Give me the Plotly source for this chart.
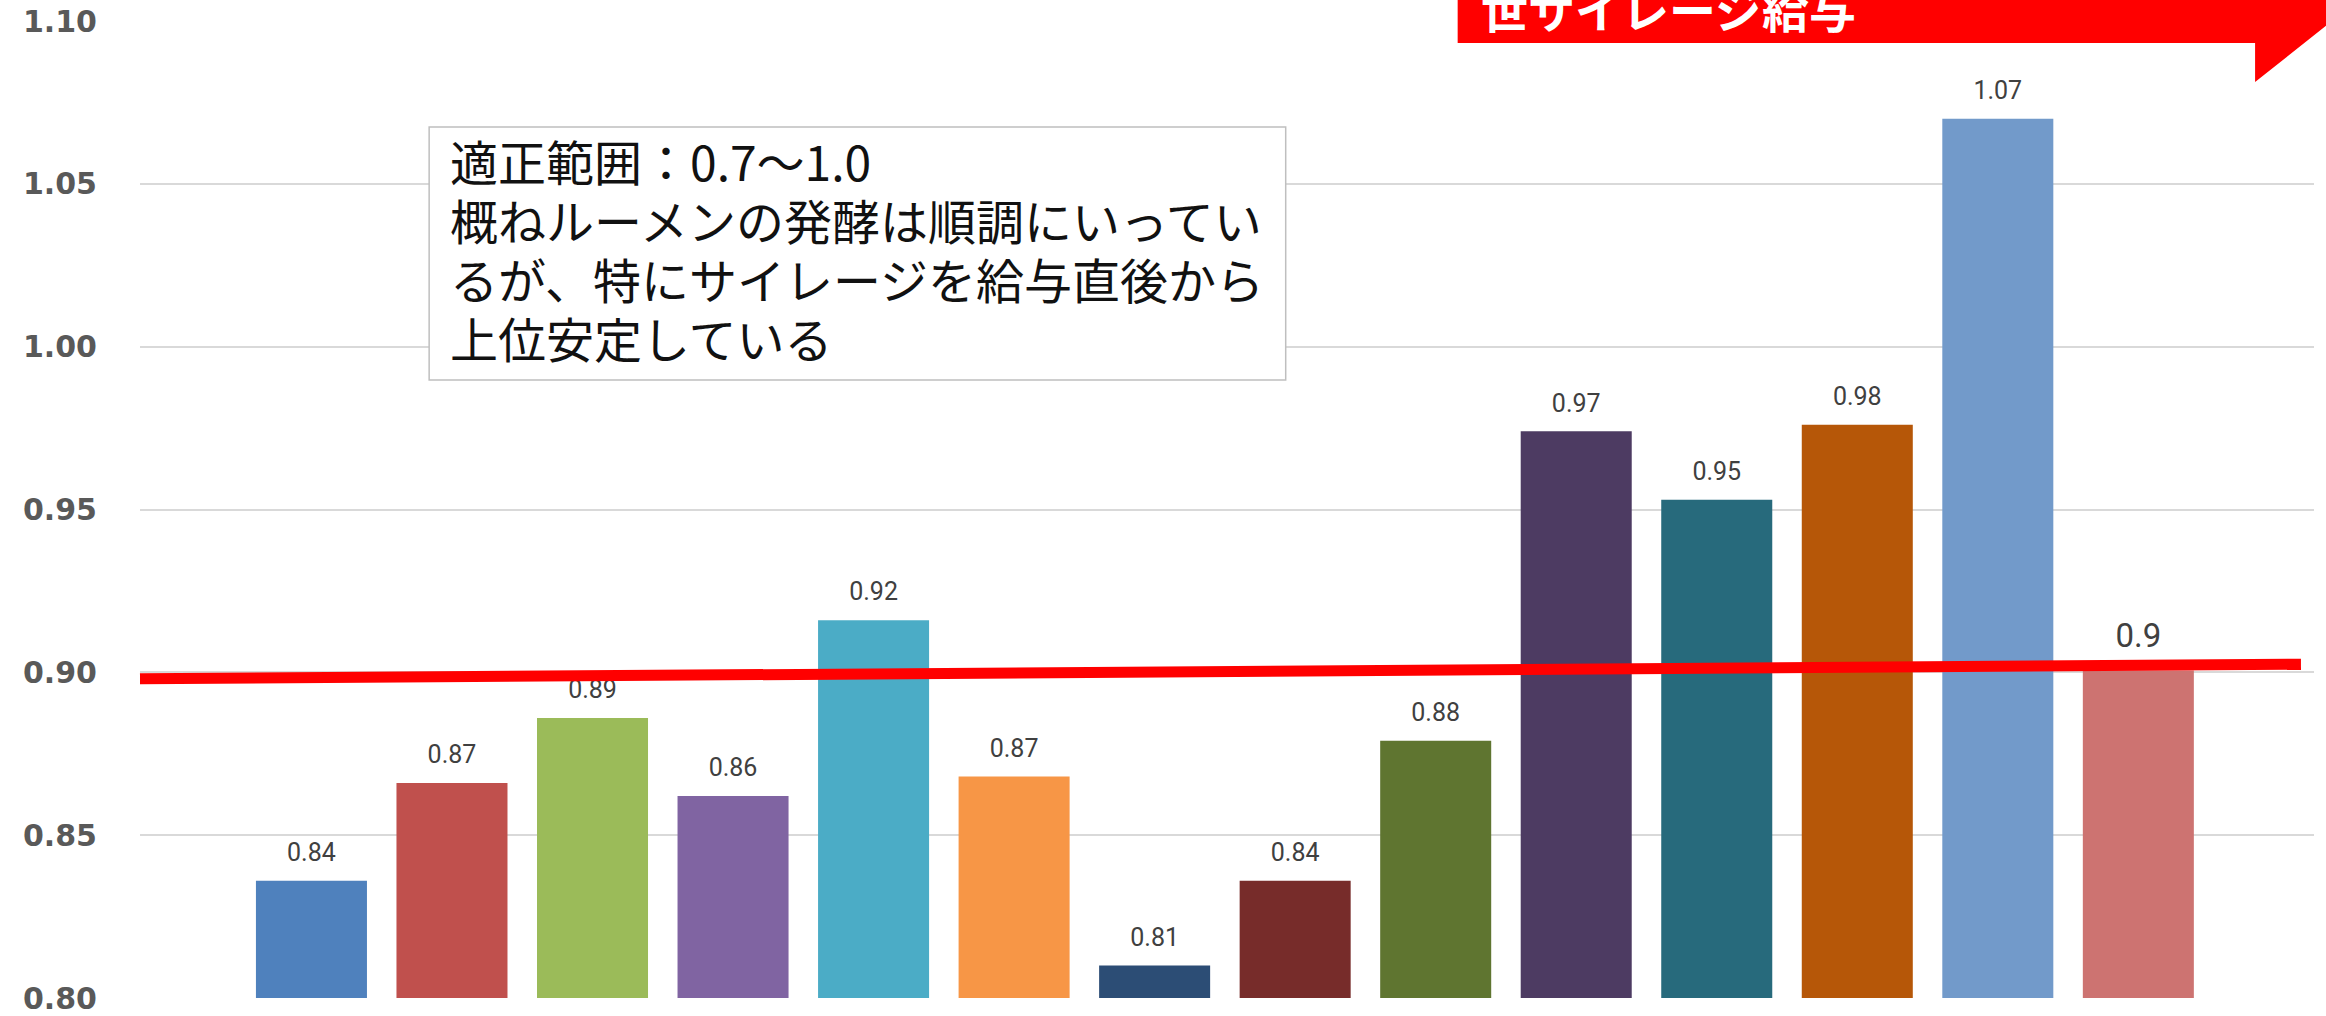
import plotly.graph_objects as go

# --- data ---
categories = [f"{i}" for i in range(1, 15)]
values = [0.836, 0.866, 0.886, 0.862, 0.916, 0.868, 0.810, 0.836, 0.879,
          0.974, 0.953, 0.976, 1.070, 0.9006]
bar_colors = ["#4F81BD", "#C0504D", "#9BBB59", "#8064A2", "#4BACC6", "#F79646",
              "#2C4D75", "#772C2A", "#5F7530", "#4D3B62", "#276A7C", "#B65708",
              "#729ACA", "#CD7371"]
labels = [f"{v:.2f}" for v in values[:-1]] + [f"{values[-1]:.1f}"]
trend_start, trend_end = 0.898, 0.9025
y_ticks = [0.80, 0.85, 0.90, 0.95, 1.00, 1.05, 1.10]

note_lines = ["適正範囲：0.7～1.0",
              "概ねルーメンの発酵は順調にいってい",
              "るが、特にサイレージを給与直後から",
              "上位安定している"]
callout_text = "世サイレージ給与"

JP = "Noto Sans CJK JP"

fig = go.Figure()

fig.add_trace(go.Bar(
    x=categories, y=values,
    marker=dict(color=bar_colors, line=dict(width=0)),
    hoverinfo="skip",
))

# value labels (as a trace so the red line can sit on top of them)
fig.add_trace(go.Scatter(
    x=categories, y=values, text=labels,
    mode="markers+text", textposition="top center",
    marker=dict(size=[20] * 13 + [22], color="rgba(0,0,0,0)",
                line=dict(width=0)),
    textfont=dict(family="Roboto", size=[25] * 13 + [33], color="#404040"),
    hoverinfo="skip",
))

fig.update_layout(
    width=2326, height=1016,
    margin=dict(l=140, r=12, t=21, b=18, autoexpand=False),
    paper_bgcolor="white", plot_bgcolor="white",
    showlegend=False,
    bargap=0.21,
    xaxis=dict(range=[-1.22, 14.25], showticklabels=False, showgrid=False,
               zeroline=False, showline=False, ticks="", automargin=False),
    yaxis=dict(range=[0.80, 1.10], tickvals=y_ticks, tickformat=".2f",
               showgrid=True, gridcolor="#D9D9D9", gridwidth=2,
               zeroline=False, showline=False, ticks="", automargin=False,
               ticklabelstandoff=42,
               tickfont=dict(family="DejaVu Sans", size=30, color="#595959",
                             weight="bold")),
)

# red reference line across the plot
fig.add_shape(type="line", xref="paper", yref="y",
              x0=0.0, x1=0.994, y0=trend_start, y1=trend_end,
              line=dict(color="#FF0000", width=11), layer="above")

# note box
fig.add_shape(type="rect", xref="paper", yref="paper",
              x0=0.133, x1=0.527, y0=0.6326, y1=0.8915,
              line=dict(color="#BFBFBF", width=1.5), fillcolor="white",
              layer="above")
for i, line in enumerate(note_lines):
    fig.add_annotation(xref="paper", yref="paper", x=0.1415,
                       y=0.8576 - i * 0.0604,
                       xanchor="left", yanchor="middle", align="left",
                       text=line, showarrow=False,
                       font=dict(family=JP, size=48, color="#111111"))

# red callout at the top right
fig.add_shape(type="path", xref="paper", yref="paper",
              path="M 0.6061 1.03 L 1.01 1.03 L 1.01 1.003 L 0.9729 0.9376 "
                   "L 0.9729 0.9775 L 0.6061 0.9775 Z",
              fillcolor="#FF0000", line=dict(width=0), layer="above")
fig.add_annotation(xref="paper", yref="paper", x=0.6157, y=1.014,
                   xanchor="left", yanchor="middle", text=callout_text,
                   showarrow=False,
                   font=dict(family=JP, size=47, color="white", weight="bold"))

fig.write_html("out.html", config={"displayModeBar": False},
               post_script="document.body.style.margin='0';")
